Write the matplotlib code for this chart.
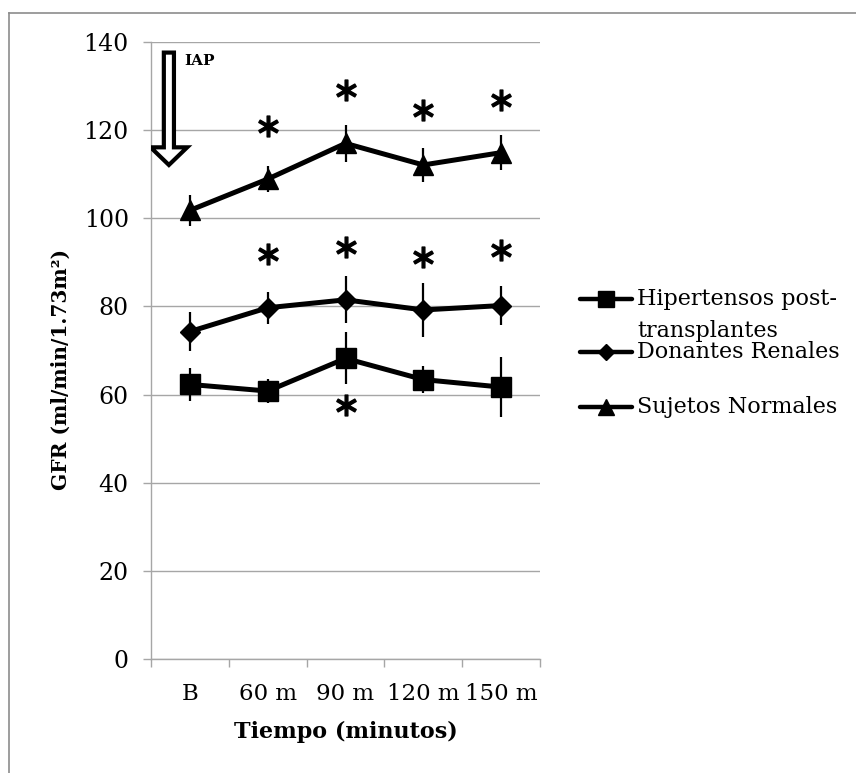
import numpy as np
import matplotlib
matplotlib.use('Agg')
import matplotlib.pyplot as plt
import matplotlib.patches as mpatches
from matplotlib.lines import Line2D

# ---- datos ----
tiempos = ['B', '60 m', '90 m', '120 m', '150 m']

hiper = [62.3, 60.8, 68.2, 63.4, 61.7]
hiper_err = [3.7, 2.7, 5.9, 3.0, 6.8]

donantes = [74.3, 79.7, 81.5, 79.2, 80.2]
donantes_err = [4.4, 3.6, 5.3, 6.1, 4.5]

normales = [101.8, 108.9, 117.0, 112.1, 114.9]
normales_err = [3.5, 3.0, 4.2, 3.8, 3.9]

# asteriscos de significancia (posicion x = indice de tiempo, y = valor)
ast_norm_x = [1, 2, 3, 4]
ast_norm_y = [121.0, 129.2, 124.6, 126.9]
ast_don_x = [1, 2, 3, 4]
ast_don_y = [92.0, 93.4, 91.3, 92.7]
ast_hip_x = [2]
ast_hip_y = [57.6]

plt.rcParams['font.family'] = ['DejaVu Serif']

fig = plt.figure(figsize=(8.56, 7.73), dpi=100)
ax = fig.add_axes([151/856, 1 - 659/773, (540-151)/856, (659-42)/773])

x = np.arange(len(tiempos))
grid_c = '#a6a6a6'

series = [(hiper, hiper_err, 's', 14),
          (donantes, donantes_err, 'D', 10),
          (normales, normales_err, '^', 15)]
for vals, err, mk, ms in series:
    ax.errorbar(x, vals, yerr=err, fmt='none', ecolor='black', elinewidth=1.6,
                capsize=0, zorder=3)
    ax.plot(x, vals, color='black', lw=3.6, marker=mk, ms=ms,
            markerfacecolor='black', markeredgecolor='black', zorder=4)

for ax_x, ax_y in [(ast_norm_x, ast_norm_y), (ast_don_x, ast_don_y), (ast_hip_x, ast_hip_y)]:
    ax.plot(ax_x, ax_y, linestyle='none', marker=r'$\ast$', ms=15,
            color='black', zorder=5)

# flecha IAP
arrow = mpatches.FancyArrow(-0.27, 137.6, 0, -25.5, width=0.13, head_width=0.47,
                            head_length=4.0, length_includes_head=True,
                            facecolor='white', edgecolor='black', lw=3, zorder=5)
ax.add_patch(arrow)
ax.text(-0.07, 135.8, 'IAP', fontsize=11, fontweight='bold', ha='left', va='center')

ax.set_xlim(-0.5, 4.5)
ax.set_ylim(0, 140)
ax.set_yticks(np.arange(0, 141, 20))
ax.yaxis.grid(True, color=grid_c, lw=1.0)
ax.set_axisbelow(True)

ax.set_xticks(x)
ax.set_xticklabels(tiempos)
ax.set_xticks(np.arange(-0.5, 4.6, 1), minor=True)
ax.tick_params(axis='x', which='major', length=0, pad=17, labelsize=16.5)
ax.tick_params(axis='x', which='minor', length=6, color=grid_c, width=1.0)
ax.tick_params(axis='y', length=6, color=grid_c, width=1.0, pad=10, labelsize=17)

for s in ['top', 'right']:
    ax.spines[s].set_visible(False)
for s in ['left', 'bottom']:
    ax.spines[s].set_color(grid_c)
    ax.spines[s].set_linewidth(1.0)

ax.set_xlabel('Tiempo (minutos)', fontsize=16, fontweight='bold')
ax.xaxis.set_label_coords(0.5, -0.1)
ax.set_ylabel('GFR (ml/min/1.73m²)', fontsize=14.5, fontweight='bold')
ax.yaxis.set_label_coords(-0.205, 0.47)

# leyenda manual (estilo Excel)
leg_rows = [('s', 11, 299), ('D', 8, 352), ('^', 12, 407)]
for mk, ms, ypx in leg_rows:
    fy = 1 - ypx / 773
    fig.add_artist(Line2D([580/856, 632/856], [fy, fy], color='black', lw=3.2,
                          solid_capstyle='round'))
    fig.add_artist(Line2D([606/856], [fy], color='black', marker=mk, ms=ms,
                          linestyle='none'))
leg_txt = [('Hipertensos post-', 299), ('transplantes', 331),
           ('Donantes Renales', 352), ('Sujetos Normales', 407)]
for t, ypx in leg_txt:
    fig.text(637/856, 1 - ypx/773, t, fontsize=16, ha='left', va='center')

# marco exterior (solo izquierda y arriba)
fig.add_artist(Line2D([9/856, 9/856], [0, 1 - 13/773], color='#8c8c8c', lw=1.2))
fig.add_artist(Line2D([9/856, 1], [1 - 13/773, 1 - 13/773], color='#8c8c8c', lw=1.2))

fig.savefig('out.png', dpi=100)
